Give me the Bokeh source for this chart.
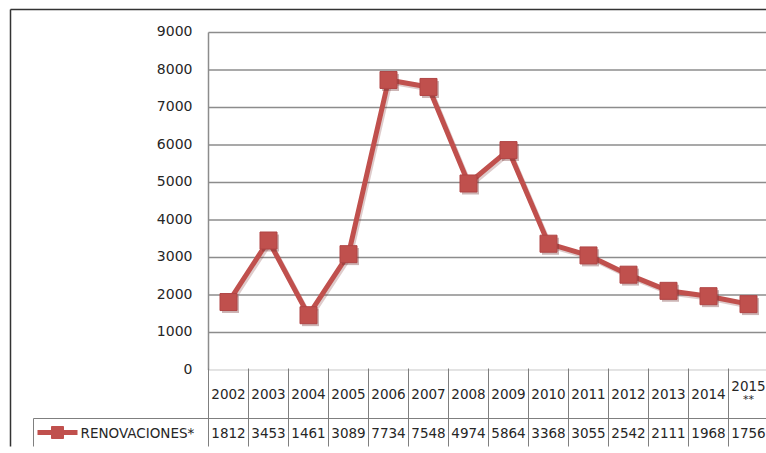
from bokeh.plotting import figure
from bokeh.models import Range1d, ColumnDataSource
from bokeh.transform import dodge
from bokeh.core.properties import value
from bokeh.embed import file_html
from bokeh.resources import INLINE

# ---- data ----
years = ["2002", "2003", "2004", "2005", "2006", "2007", "2008", "2009",
         "2010", "2011", "2012", "2013", "2014", "2015"]
year_suffix = ["", "", "", "", "", "", "", "", "", "", "", "", "", "**"]
renovaciones = [1812, 3453, 1461, 3089, 7734, 7548, 4974, 5864,
                3368, 3055, 2542, 2111, 1968, 1756]
y_ticks = [0, 1000, 2000, 3000, 4000, 5000, 6000, 7000, 8000, 9000]
series_name = "RENOVACIONES*"

LINE_COLOR = "#c0504d"
FONT = value("DejaVu Sans")
TXT = "#262626"

n = len(years)
xc = [i + 0.5 for i in range(n)]

p = figure(width=766, height=453, output_backend="svg", toolbar_location=None,
           x_range=Range1d(-5.2, 13.95), y_range=Range1d(-2226.67, 9853.3),
           x_axis_location=None, y_axis_location=None, min_border=0,
           outline_line_color=None, background_fill_color="white")
p.extra_x_ranges = {"px": Range1d(0, 766)}
p.extra_y_ranges = {"px": Range1d(453, 0)}
p.grid.visible = False

# outer border (top and left)
p.segment(x0=[10, 10], y0=[9, 9], x1=[766, 10], y1=[9, 446],
          line_color="#333333", line_width=1.5,
          x_range_name="px", y_range_name="px")

# gridlines
grid_vals = [v for v in y_ticks if v > 0]
p.segment(x0=[0] * len(grid_vals), x1=[n + 1] * len(grid_vals),
          y0=grid_vals, y1=grid_vals, line_color="#8c8c8c", line_width=1.5)
p.segment(x0=[0], x1=[n + 1], y0=[0], y1=[0], line_color="#c8c8c8", line_width=1)
# plot-area left line
p.segment(x0=[0], x1=[0], y0=[0], y1=[9000], line_color="#8c8c8c", line_width=1.5)

# y tick labels
p.text(x=[192] * len(y_ticks), y=y_ticks, text=[str(v) for v in y_ticks],
       text_align="right", text_baseline="middle", text_font=FONT,
       text_font_size="14px", text_color=TXT, x_range_name="px", y_offset=-1)

# data table lines
col_edges = list(range(n + 1))
p.segment(x0=col_edges, x1=col_edges, y0=[368] * len(col_edges), y1=[446] * len(col_edges),
          line_color="#7f7f7f", line_width=1, y_range_name="px")
p.segment(x0=[33, 33], y0=[418, 418], x1=[766, 33], y1=[418, 446],
          line_color="#7f7f7f", line_width=1, x_range_name="px", y_range_name="px")

# header row (years)
single = [i for i in range(n) if not year_suffix[i]]
p.text(x=[xc[i] for i in single], y=[393] * len(single), text=[years[i] for i in single],
       text_align="center", text_baseline="middle", text_font=FONT,
       text_font_size="13.5px", text_color=TXT, y_range_name="px")
multi = [i for i in range(n) if year_suffix[i]]
p.text(x=[xc[i] for i in multi], y=[385] * len(multi), text=[years[i] for i in multi],
       text_align="center", text_baseline="middle", text_font=FONT,
       text_font_size="13.5px", text_color=TXT, y_range_name="px")
p.text(x=[xc[i] for i in multi], y=[399] * len(multi), text=[year_suffix[i] for i in multi],
       text_align="center", text_baseline="middle", text_font=FONT,
       text_font_size="11px", text_color=TXT, y_range_name="px")

# value row
p.text(x=xc, y=[432] * n, text=[str(v) for v in renovaciones],
       text_align="center", text_baseline="middle", text_font=FONT,
       text_font_size="13.5px", text_color=TXT, y_range_name="px")

# legend key in table
p.segment(x0=[37], x1=[77], y0=[432], y1=[432], line_color=LINE_COLOR, line_width=5,
          x_range_name="px", y_range_name="px")
p.scatter(x=[57], y=[432], marker="square", size=12, fill_color=LINE_COLOR,
          line_color=LINE_COLOR, x_range_name="px", y_range_name="px")
p.text(x=[80], y=[432], text=[series_name], text_align="left", text_baseline="middle",
       text_font=FONT, text_font_size="13.5px", text_color=TXT,
       x_range_name="px", y_range_name="px")

# series
src = ColumnDataSource(dict(x=xc, y=renovaciones))
p.line(x=dodge("x", 0.04), y=dodge("y", -55), source=src, line_color="#7a3030",
       line_alpha=0.25, line_width=5, line_join="round")
p.line(x="x", y="y", source=src, line_color=LINE_COLOR, line_width=5, line_join="round")
p.scatter(x=dodge("x", 0.05), y=dodge("y", -65), source=src, marker="square", size=17,
          fill_color="#6e2c2c", fill_alpha=0.35, line_color=None)
p.scatter(x="x", y="y", source=src, marker="square", size=17,
          fill_color=LINE_COLOR, line_color="#b04545", line_width=1)

open("out.html", "w").write(file_html(p, INLINE))
